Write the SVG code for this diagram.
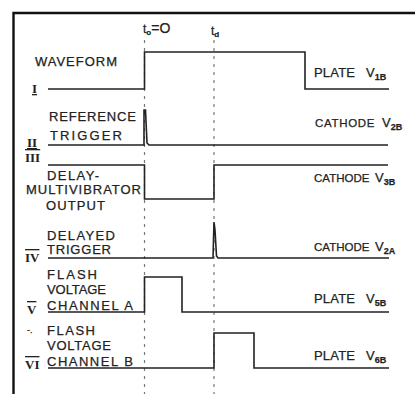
<svg xmlns="http://www.w3.org/2000/svg" width="415" height="394" viewBox="0 0 415 394">
<style>
.lbl{font-family:"Liberation Sans",Arial,sans-serif;font-size:13px;fill:#222;letter-spacing:1px;stroke:#222;stroke-width:0.25}
.cat{font-size:11.5px;letter-spacing:0.5px}
.rn{font-family:"Liberation Serif","Times New Roman",serif;font-size:13px;fill:#222;font-weight:bold}
.sub{font-family:"Liberation Sans",Arial,sans-serif;font-size:9px;fill:#222;font-weight:bold}
.wave{fill:none;stroke:#222;stroke-width:1.6;stroke-linejoin:miter}
.dash{fill:none;stroke:#777;stroke-width:1.2;stroke-dasharray:3 5}
.frame{fill:none;stroke:#111;stroke-width:2.4}
</style>
<rect width="415" height="394" fill="#ffffff"/>
<g id="frame">
<path class="frame" d="M13.5,394 V13 H415"/>
</g>
<g id="time-markers">
<line class="dash" x1="144.5" y1="40" x2="144.5" y2="394"/>
<line class="dash" x1="214" y1="40" x2="214" y2="394"/>
<text class="lbl" x="143" y="33" style="font-size:12px;letter-spacing:0">t<tspan class="sub" dy="2" style="font-size:8px">o</tspan><tspan dy="-2" style="font-size:14px">=O</tspan></text>
<text class="lbl" x="211" y="35" style="font-size:12px;letter-spacing:0">t<tspan class="sub" dy="2" style="font-size:8px">d</tspan></text>
</g>
<g id="connectors">
<path class="wave" d="M48,89 H144.5 V52 H305 V89 H389"/>
<path class="wave" d="M48,145 H144 V110 L145.5,110 L147,143 L149,145 H388"/>
<path class="wave" d="M48,165 H144.5 V199 H214 V165 H388"/>
<path class="wave" d="M48,258 H213 L214,222 L215,230 L216.5,256 L218,258 H389"/>
<path class="wave" d="M48,312 H144.5 V277 H182 V312 H389"/>
<path class="wave" d="M48,368 H214 V333 H254 V368 H389"/>
</g>
<g id="trace-I">
<text class="lbl" x="35" y="66" textLength="83" lengthAdjust="spacing">WAVEFORM</text>
<text class="rn" x="32" y="93" style="text-decoration:underline">I</text>
<text class="lbl" x="314" y="77" textLength="42" lengthAdjust="spacing">PLATE</text>
<text class="lbl" x="366" y="77" style="letter-spacing:0">V<tspan class="sub" dy="3">1B</tspan></text>
</g>
<g id="trace-II">
<text class="lbl" x="49" y="121" textLength="88" lengthAdjust="spacing">REFERENCE</text>
<text class="lbl" x="50" y="140" textLength="73" lengthAdjust="spacing">TRIGGER</text>
<text class="rn" x="27" y="147" style="text-decoration:underline">II</text>
<text class="lbl cat" x="315" y="127" textLength="60" lengthAdjust="spacing">CATHODE</text>
<text class="lbl" x="382" y="127" style="letter-spacing:0">V<tspan class="sub" dy="3">2B</tspan></text>
</g>
<g id="trace-III">
<text class="rn" x="25" y="162" style="text-decoration:overline">III</text>
<text class="lbl" x="47" y="180" textLength="53" lengthAdjust="spacing">DELAY-</text>
<text class="lbl" x="26" y="194" textLength="116" lengthAdjust="spacing">MULTIVIBRATOR</text>
<text class="lbl" x="46" y="210" textLength="60" lengthAdjust="spacing">OUTPUT</text>
<text class="lbl cat" x="314" y="182" textLength="56" lengthAdjust="spacing">CATHODE</text>
<text class="lbl" x="375" y="182" style="letter-spacing:0">V<tspan class="sub" dy="3">3B</tspan></text>
</g>
<g id="trace-IV">
<text class="lbl" x="47" y="240" textLength="69" lengthAdjust="spacing">DELAYED</text>
<text class="lbl" x="47" y="254" textLength="65" lengthAdjust="spacing">TRIGGER</text>
<text class="rn" x="25" y="262" style="text-decoration:overline">IV</text>
<text class="lbl cat" x="314" y="251" textLength="56" lengthAdjust="spacing">CATHODE</text>
<text class="lbl" x="375" y="251" style="letter-spacing:0">V<tspan class="sub" dy="3">2A</tspan></text>
</g>
<g id="trace-V">
<text class="lbl" x="47" y="279" textLength="51" lengthAdjust="spacing">FLASH</text>
<text class="lbl" x="47" y="294" textLength="60" lengthAdjust="spacing">VOLTAGE</text>
<text class="lbl" x="47" y="310" textLength="87" lengthAdjust="spacing">CHANNEL A</text>
<text class="rn" x="27" y="314" style="text-decoration:overline">V</text>
<text class="lbl" x="314" y="303" textLength="42" lengthAdjust="spacing">PLATE</text>
<text class="lbl" x="366" y="303" style="letter-spacing:0">V<tspan class="sub" dy="3">5B</tspan></text>
</g>
<g id="trace-VI">
<text class="lbl" x="27" y="333" style="font-size:9px;letter-spacing:0">-.</text>
<text class="lbl" x="47" y="335" textLength="49" lengthAdjust="spacing">FLASH</text>
<text class="lbl" x="47" y="350" textLength="65" lengthAdjust="spacing">VOLTAGE</text>
<text class="lbl" x="47" y="366" textLength="87" lengthAdjust="spacing">CHANNEL B</text>
<text class="rn" x="25" y="369" style="text-decoration:overline">VI</text>
<text class="lbl" x="314" y="360" textLength="42" lengthAdjust="spacing">PLATE</text>
<text class="lbl" x="366" y="360" style="letter-spacing:0">V<tspan class="sub" dy="3">6B</tspan></text>
</g>
</svg>
